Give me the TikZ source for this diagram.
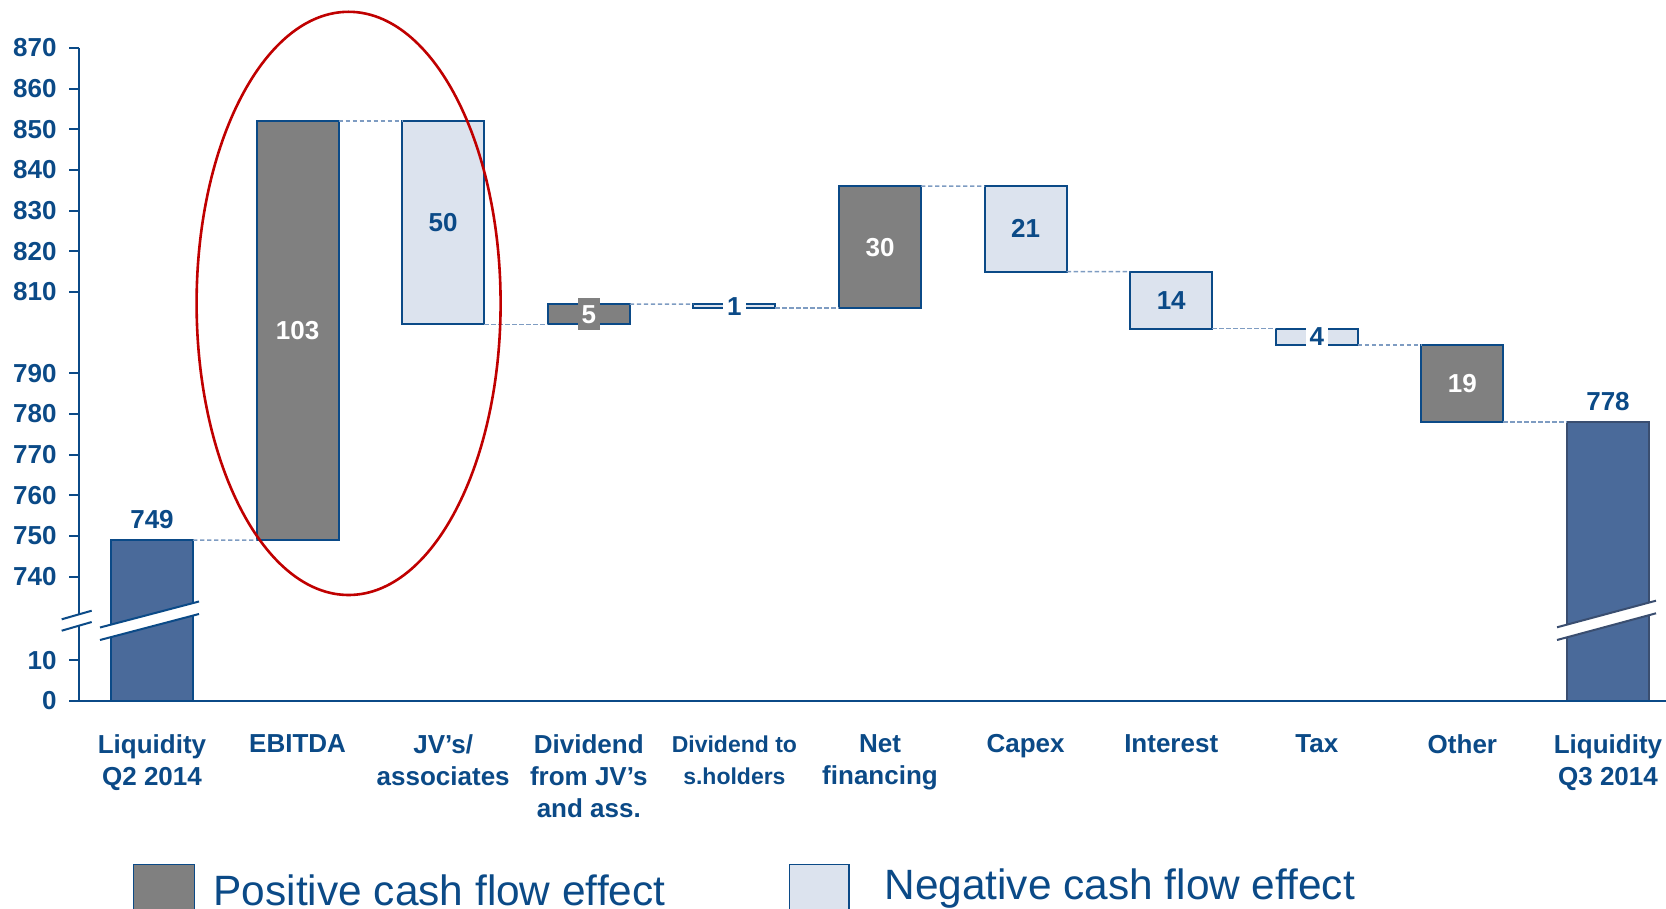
\documentclass[tikz,border=0pt]{standalone}
\usepackage{fontspec}
\setmainfont{Liberation Sans}
\usetikzlibrary{positioning}

\definecolor{axisblue}{HTML}{0B4A87}
\definecolor{cashgray}{HTML}{808080}
\definecolor{cashlight}{HTML}{DCE3EE}
\definecolor{liqfill}{HTML}{4A6A9A}
\definecolor{liqedge}{HTML}{3A4E70}
\definecolor{linkblue}{HTML}{7E9CC2}
\definecolor{ringred}{HTML}{C00000}

\tikzset{
  cashbar/.style={draw=axisblue, line width=1pt, minimum width=41pt, inner sep=0pt, outer sep=0pt},
  posbar/.style={cashbar, fill=cashgray},
  negbar/.style={cashbar, fill=cashlight},
  liqbar/.style={cashbar, fill=liqfill},
  linkline/.style={draw=linkblue, line width=0.7pt, dash pattern=on 2.2pt off 1.3pt},
  axisline/.style={draw=axisblue, line width=1pt},
  valtext/.style={font=\bfseries\fontsize{13}{16}\selectfont, text=axisblue, inner sep=0pt},
  posval/.style={valtext, text=white},
  ticklab/.style={valtext, anchor=east},
  catlab/.style={valtext, align=center, anchor=north},
  legtext/.style={font=\fontsize{21.2}{25}\selectfont, text=axisblue, inner sep=0pt, anchor=base west},
  legbox/.style={draw=axisblue, line width=0.7pt, inner sep=0pt, anchor=north west}
}

\begin{document}
\begin{tikzpicture}[x=0.5pt, y=-0.5pt]
\fill[white] (0,0) rectangle (1666,909);
\useasboundingbox (0,0) rectangle (1666,909);

% bars of the bridge
\node[liqbar, minimum height=80.45pt] (liq2) at (152,620.55) {};
\node[posbar, minimum height=209.45pt] (ebitda) at (297.6,330.65) {};
\node[negbar, minimum height=101.65pt] (jv) at (443.2,222.85) {};
\node[posbar, minimum height=10.15pt] (divjv) at (588.8,314.35) {};
\node[negbar, minimum height=2pt] (divsh) at (734.4,306.2) {};
\node[posbar, minimum height=61pt] (netfin) at (880,247.2) {};
\node[negbar, minimum height=42.7pt] (capex) at (1025.6,228.9) {};
\node[negbar, minimum height=28.5pt] (interest) at (1171.2,300.1) {};
\node[negbar, minimum height=8.15pt] (tax) at (1316.8,336.75) {};
\node[posbar, minimum height=38.6pt] (other) at (1462.4,383.5) {};
\node[liqbar, draw=liqedge, minimum height=139.45pt] (liq3) at (1608,561.55) {};

\draw[linkline] (liq2.north east) -- (ebitda.south west);
\draw[linkline] (ebitda.north east) -- (jv.north west);
\draw[linkline] (jv.south east) -- (divjv.south west);
\draw[linkline] (divjv.north east) -- (divsh.north west);
\draw[linkline] (divsh.south east) -- (netfin.south west);
\draw[linkline] (netfin.north east) -- (capex.north west);
\draw[linkline] (capex.south east) -- (interest.north west);
\draw[linkline] (interest.south east) -- (tax.north west);
\draw[linkline] (tax.south east) -- (other.north west);
\draw[linkline] (other.south east) -- (liq3.north west);

\node[valtext, above=5.5pt of liq2] (liq2val) {749};
\node[posval] (ebitdaval) at (ebitda) {103};
\node[valtext] (jvval) at (jv) {50};
\node[posval, fill=cashgray, inner xsep=2pt, inner ysep=3.4pt] (divjvval) at (divjv) {5};
\node[valtext, fill=white, inner xsep=2pt] (divshval) at (divsh) {1};
\node[posval] (netfinval) at (netfin) {30};
\node[valtext] (capexval) at (capex) {21};
\node[valtext] (interestval) at (interest) {14};
\node[valtext, fill=white, inner xsep=2pt] (taxval) at (tax) {4};
\node[posval] (otherval) at (other) {19};
\node[valtext, above=5.5pt of liq3] (liq3val) {778};

% axis with break
\draw[axisline] (79,48) -- (79,701) -- (1666,701);
\foreach \v/\y in {870/48,860/88.6,850/129.3,840/170,830/210.6,820/251.3,810/292,
                   790/373.3,780/414,770/454.7,760/495.3,750/536,740/576.7,10/660.3,0/701}
  {
    \draw[axisline] (69,\y) -- (79,\y);
    \node[ticklab] (tick\v) at (57,\y) {\v};
  }
\fill[white] (61.7,619.3) -- (91.7,610.7) -- (91.7,622) -- (61.7,630.7) -- cycle;
\draw[axisline] (61.7,619.3) -- (91.7,610.7) (61.7,630.7) -- (91.7,622);
\fill[white] (100,627.5) -- (199,601.5) -- (199,614) -- (100,640) -- cycle;
\draw[axisline] (100,627.5) -- (199,601.5) (100,640) -- (199,614);
\fill[white] (1557,627.3) -- (1656,600.7) -- (1656,613.3) -- (1557,640) -- cycle;
\draw[axisline, draw=liqedge] (1557,627.3) -- (1656,600.7) (1557,640) -- (1656,613.3);

% categories
\node[catlab] (liq2lab) at (152,734) {Liquidity\\Q2 2014};
\node[catlab] (ebitdalab) at (297.6,734) {EBITDA};
\node[catlab] (jvlab) at (443.2,734) {JV’s/\\associates};
\node[catlab] (divjvlab) at (588.8,734) {Dividend\\from JV’s\\and ass.};
\node[catlab, font=\bfseries\fontsize{11.5}{16}\selectfont] (divshlab) at (734.4,735) {Dividend to\\s.holders};
\node[catlab] (netfinlab) at (880,734) {Net\\financing};
\node[catlab] (capexlab) at (1025.6,734) {Capex};
\node[catlab] (interestlab) at (1171.2,734) {Interest};
\node[catlab] (taxlab) at (1316.8,734) {Tax};
\node[catlab] (otherlab) at (1462.4,734) {Other};
\node[catlab] (liq3lab) at (1608,734) {Liquidity\\Q3 2014};

\draw[draw=ringred, line width=1.3pt] (348.6,303.4) ellipse [x radius=76pt, y radius=145.8pt];

% legend
\node[legbox, fill=cashgray, minimum width=30.5pt, minimum height=30.5pt] (posbox) at (132.5,864) {};
\node[legtext] (postext) at (213.3,905) {Positive cash flow effect};
\node[legbox, fill=cashlight, minimum width=29.6pt, minimum height=30.5pt] (negbox) at (789,864) {};
\node[legtext] (negtext) at (884,899.6) {Negative cash flow effect};
\end{tikzpicture}
\end{document}
